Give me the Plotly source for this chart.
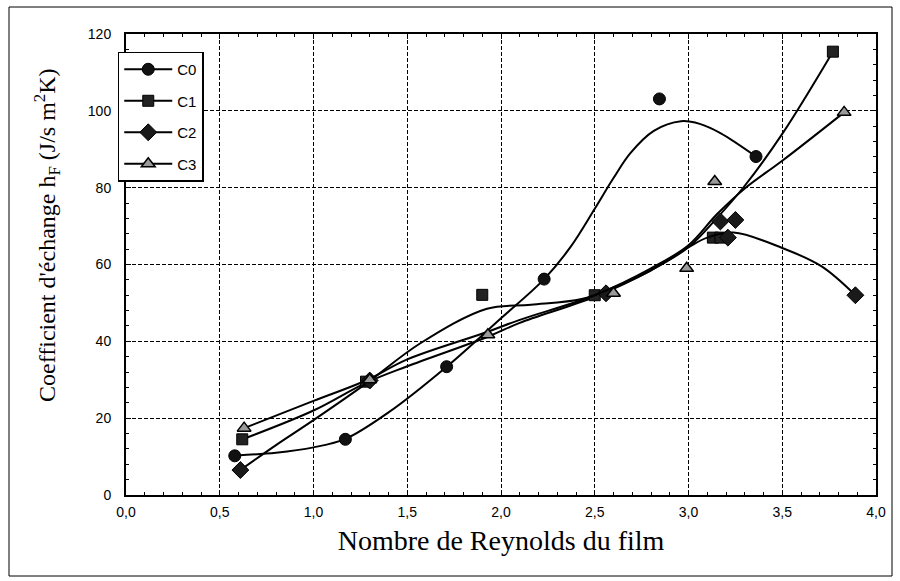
import plotly.graph_objects as go

# ---- measured data points ----
c0_x = [0.58, 1.17, 1.71, 2.23, 2.845, 3.36]
c0_y = [10.2, 14.5, 33.4, 56.2, 103.1, 88.1]

c1_x = [0.62, 1.28, 1.90, 2.50, 3.13, 3.17, 3.77]
c1_y = [14.5, 29.5, 52.1, 52.0, 67.0, 67.0, 115.4]

c2_x = [0.61, 1.30, 2.56, 3.17, 3.21, 3.25, 3.89]
c2_y = [6.5, 29.8, 52.5, 71.2, 67.0, 71.6, 52.0]

c3_x = [0.63, 1.30, 1.93, 2.60, 2.99, 3.14, 3.83]
c3_y = [17.4, 30.0, 41.7, 52.5, 59.0, 81.6, 99.6]

# ---- fitted curves ----
c0_fit_x = [0.59, 0.8, 1.0, 1.17, 1.4, 1.71, 2.0, 2.23, 2.37, 2.5, 2.6, 2.69, 2.815, 2.96, 3.06, 3.17, 3.36]
c0_fit_y = [10.3, 11.0, 12.4, 14.6, 21.5, 33.4, 46.0, 56.2, 64.5, 74.5, 82.5, 89.0, 94.8, 97.3, 96.6, 94.2, 88.1]

c1_fit_x = [0.62, 1.0, 1.28, 1.5, 1.93, 2.1, 2.5, 2.8, 3.0, 3.15, 3.3, 3.5, 3.77]
c1_fit_y = [14.5, 22.0, 29.2, 33.5, 41.2, 44.8, 51.6, 58.5, 64.5, 72.0, 80.5, 94.0, 115.4]

c2_fit_x = [0.61, 0.8, 1.0, 1.28, 1.57, 1.925, 2.16, 2.43, 2.6, 2.8, 3.0, 3.1, 3.24, 3.5, 3.71, 3.89]
c2_fit_y = [6.5, 13.0, 19.5, 29.0, 39.5, 48.5, 49.5, 51.0, 54.0, 58.5, 64.5, 67.0, 68.3, 64.3, 59.5, 52.0]

c3_fit_x = [0.63, 1.0, 1.28, 1.5, 1.93, 2.1, 2.5, 2.8, 3.0, 3.15, 3.3, 3.5, 3.83]
c3_fit_y = [17.4, 24.5, 29.8, 35.3, 42.5, 45.6, 52.0, 59.0, 65.0, 73.0, 79.8, 87.0, 99.6]

x_ticks = [0.0, 0.5, 1.0, 1.5, 2.0, 2.5, 3.0, 3.5, 4.0]
y_ticks = [0, 20, 40, 60, 80, 100, 120]

x_title = "Nombre de Reynolds du film"
y_title = "Coefficient d'échange h<sub>F</sub> (J/s m<sup>2</sup>K)"

series = [
    ("C0", c0_x, c0_y, c0_fit_x, c0_fit_y, dict(symbol="circle", size=12, color="#111111", line=dict(color="#000", width=1))),
    ("C1", c1_x, c1_y, c1_fit_x, c1_fit_y, dict(symbol="square", size=11, color="#222222", line=dict(color="#000", width=1))),
    ("C2", c2_x, c2_y, c2_fit_x, c2_fit_y, dict(symbol="diamond", size=13, color="#1a1a1a", line=dict(color="#000", width=1))),
    ("C3", c3_x, c3_y, c3_fit_x, c3_fit_y, dict(symbol="triangle-up", size=12, color="#9a9a9a", line=dict(color="#000", width=1.5))),
]

fig = go.Figure()
for name, x, y, fx, fy, mk in series:
    fig.add_trace(go.Scatter(x=fx, y=fy, mode="lines", line=dict(color="#000", width=2, shape="spline", smoothing=1.0),
                             showlegend=False, legendgroup=name, hoverinfo="skip"))
    fig.add_trace(go.Scatter(x=x, y=y, mode="markers", marker=mk, showlegend=False, legendgroup=name, name=name))
    fig.add_trace(go.Scatter(x=[None], y=[None], mode="lines+markers", marker=mk,
                             line=dict(color="#000", width=2), name=name, legendgroup=name, showlegend=True))

axis_common = dict(
    showline=True, linecolor="#000", linewidth=2, mirror="ticks",
    ticks="inside", ticklen=5, tickcolor="#000", tickwidth=1,
    showgrid=True, gridcolor="#000", gridwidth=1, griddash="4px,2px",
    zeroline=False, automargin=False,
)

fig.update_xaxes(range=[0, 4], tickvals=x_ticks, tickformat=".1f",
                 minor=dict(ticks="inside", ticklen=3, dtick=0.1, tickcolor="#000", showgrid=False),
                 tickfont=dict(family="Liberation Sans, Arial", size=14, color="#000"),
                 ticklabelstandoff=3,
                 title=dict(text=x_title,
                            font=dict(family="Liberation Serif, Times New Roman, serif", size=28, color="#000"),
                            standoff=12),
                 **axis_common)
fig.update_yaxes(range=[0, 120], tickvals=y_ticks,
                 minor=dict(ticks="inside", ticklen=3, dtick=4, tickcolor="#000", showgrid=False),
                 tickfont=dict(family="Liberation Sans, Arial", size=14, color="#000"),
                 ticklabelstandoff=10,
                 **axis_common)

fig.update_layout(
    width=900, height=581,
    margin=dict(l=126, r=24, t=34, b=86),
    paper_bgcolor="white", plot_bgcolor="white",
    separators=", ",
    showlegend=True,
    legend=dict(x=-0.011, y=0.962, xanchor="left", yanchor="top",
                bgcolor="white", bordercolor="#000", borderwidth=1.5,
                font=dict(family="Liberation Sans, Arial", size=15, color="#000"),
                tracegroupgap=9, itemwidth=48),
    annotations=[dict(text=y_title, xref="paper", yref="paper",
                      x=(47 - 126) / 750, y=(495 - 235) / 461, xanchor="center", yanchor="middle",
                      textangle=-90, showarrow=False,
                      font=dict(family="Liberation Serif, Times New Roman, serif", size=24, color="#000"))],
    shapes=[dict(type="rect", xref="paper", yref="paper",
                 x0=(9 - 126) / 750, x1=(892 - 126) / 750,
                 y0=(495 - 576) / 461, y1=(495 - 7) / 461,
                 line=dict(color="#000", width=1), fillcolor="rgba(0,0,0,0)", layer="below")],
)

fig.write_html("out.html", config={"displayModeBar": False},
               post_script="document.body.style.margin='0';")
